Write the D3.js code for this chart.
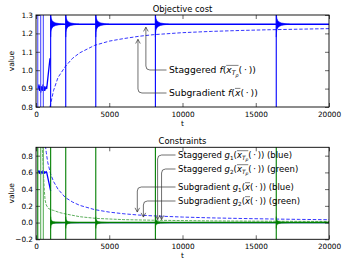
<!DOCTYPE html>
<html><head><meta charset="utf-8">
<script src="https://cdn.jsdelivr.net/npm/d3@7"></script>
<style>body{margin:0;background:#fff} svg{display:block} text{font-family:"DejaVu Sans",sans-serif;fill:#000}</style>
</head><body><svg id="c" width="350" height="264"></svg>
<script>
// ---------- data ----------
const xTicks = [0, 5000, 10000, 15000, 20000];
const fTicks = [0.8, 0.9, 1.0, 1.1, 1.2, 1.3];
const gTicks = [-0.2, 0.0, 0.2, 0.4, 0.6, 0.8];
const restartT = [120, 320, 500, 1000, 2030, 4080, 8150, 16400];
const spikeLightG = [false, true, true, false, false, false, false, false];
// decaying oscillation envelope after each restart (offset in t, half width)
const flareDt = [0, 15, 40, 100, 200, 350, 600, 900];
const flareHalfF = [0.07, 0.045, 0.032, 0.02, 0.012, 0.007, 0.003, 0.0];
const flareHalfG = [0.07, 0.045, 0.03, 0.018, 0.011, 0.006, 0.003, 0.0];
// objective: staggered (early phase) and steady level
const fStagT = [160, 200, 240, 280, 320, 360, 400, 440, 480, 520, 560, 600, 640, 690, 730, 955];
const fStagV = [0.90, 0.92, 0.89, 0.91, 0.88, 0.91, 0.90, 0.89, 0.92, 0.89, 0.91, 0.89, 0.90, 0.91, 0.90, 1.065];
const fSteady = 1.25;
// objective: subgradient
const fSubT = [955, 1200, 1500, 2000, 2500, 3000, 4000, 5000, 6000, 7000, 8000, 10000, 12000, 14000, 16000, 18000, 20000];
const fSubV = [0.80, 0.89, 0.96, 1.02, 1.065, 1.095, 1.135, 1.158, 1.172, 1.184, 1.193, 1.204, 1.211, 1.216, 1.220, 1.223, 1.226];
// constraints: staggered g1 (blue), early phase
const g1StagT = [160, 200, 240, 280, 320, 360, 400, 440, 480, 520, 560, 600, 640, 690, 730, 1000];
const g1StagV = [0.60, 0.62, 0.59, 0.61, 0.58, 0.61, 0.60, 0.59, 0.62, 0.59, 0.61, 0.59, 0.60, 0.61, 0.60, 0.38];
const gSteady = 0.0;
// constraints: subgradient g1 (blue dashed)
const g1SubT = [640, 700, 800, 1000, 1200, 1500, 2000, 2500, 3000, 4000, 5000, 6000, 7000, 8000, 10000, 12000, 14000, 16000, 18000, 20000];
const g1SubV = [0.92, 0.84, 0.72, 0.58, 0.49, 0.40, 0.30, 0.245, 0.205, 0.155, 0.125, 0.105, 0.09, 0.08, 0.066, 0.056, 0.049, 0.043, 0.038, 0.034];
// constraints: subgradient g2 (green dashed)
const g2SubT = [420, 470, 520, 570, 620, 700, 840, 1000, 1200, 1600, 2100, 3000, 4100, 6000, 8000, 12000, 16000, 20000];
const g2SubV = [0.92, 0.75, 0.55, 0.38, 0.27, 0.21, 0.17, 0.155, 0.145, 0.12, 0.10, 0.07, 0.05, 0.035, 0.028, 0.02, 0.016, 0.013];
// annotation targets (t, value) and label rows
const annTop = [
  {t: 7500, v: 1.25, ty: 70, label: "Staggered", fn: "f", stag: true},
  {t: 6960, v: 1.184, ty: 93, label: "Subgradient", fn: "f", stag: false}
];
const annBot = [
  {t: 8300, v: 0.0, ty: 155, label: "Staggered", fn: "g", idx: "1", stag: true, col: "(blue)"},
  {t: 8570, v: 0.0, ty: 169, label: "Staggered", fn: "g", idx: "2", stag: true, col: "(green)"},
  {t: 6915, v: 0.09, ty: 187, label: "Subgradient", fn: "g", idx: "1", stag: false, col: "(blue)"},
  {t: 7330, v: 0.03, ty: 201, label: "Subgradient", fn: "g", idx: "2", stag: false, col: "(green)"}
];

// ---------- drawing ----------
const svg = d3.select("#c");
const L = 36, R = 329;
const x = d3.scaleLinear().domain([0, 20000]).range([L, R]);
const yF = d3.scaleLinear().domain([0.8, 1.3]).range([107, 15]);
const yG = d3.scaleLinear().domain([-0.2, 0.9]).range([239.3, 147.3]);
const BLUE = "#0000ff", GREEN = "#007f00", LGREEN = "#5fb05f";

function panel(y, id) {
  const [y0, y1] = y.range();
  svg.append("clipPath").attr("id", id).append("rect")
    .attr("x", L).attr("y", y1).attr("width", R - L).attr("height", y0 - y1);
  return svg.append("g").attr("clip-path", `url(#${id})`);
}

function frame(y, ticks, fmt, title) {
  const [y0, y1] = y.range();
  const ax = svg.append("g");
  ax.append("g").attr("transform", `translate(0,${y0})`)
    .call(d3.axisBottom(x).tickValues(xTicks).tickSize(-4).tickPadding(5).tickFormat(d3.format("d")));
  ax.append("g").attr("transform", `translate(0,${y1})`)
    .call(d3.axisTop(x).tickValues(xTicks).tickSize(-4).tickFormat(""));
  ax.append("g").attr("transform", `translate(${L},0)`)
    .call(d3.axisLeft(y).tickValues(ticks).tickSize(-4).tickPadding(3).tickFormat(fmt));
  ax.append("g").attr("transform", `translate(${R},0)`)
    .call(d3.axisRight(y).tickValues(ticks).tickSize(-4).tickFormat(""));
  ax.selectAll(".domain").remove();
  ax.selectAll(".tick line").attr("stroke", "#000").attr("stroke-width", 0.6);
  ax.selectAll(".tick text").attr("font-size", 7.3).attr("font-family", "DejaVu Sans").attr("fill", "#000");
  ax.append("rect").attr("x", L).attr("y", y1).attr("width", R - L).attr("height", y0 - y1)
    .attr("fill", "none").attr("stroke", "#000").attr("stroke-width", 0.9);
  svg.append("text").attr("x", (L + R) / 2).attr("y", y1 - 3.5).attr("text-anchor", "middle")
    .attr("font-size", 8.4).text(title);
  svg.append("text").attr("x", (L + R) / 2).attr("y", y0 + 18.5).attr("text-anchor", "middle")
    .attr("font-size", 7.5).text("t");
  svg.append("text").attr("transform", `translate(14,${(y0 + y1) / 2}) rotate(-90)`)
    .attr("text-anchor", "middle").attr("font-size", 7.5).text("value");
}

function drawLine(g, y, ts, vs, color, w, dash) {
  const line = d3.line().x(d => x(d[0])).y(d => y(d[1]));
  g.append("path").datum(ts.map((t, i) => [t, vs[i]])).attr("d", line)
    .attr("fill", "none").attr("stroke", color).attr("stroke-width", w)
    .attr("stroke-dasharray", dash || null).attr("stroke-linejoin", "round");
}

function flares(g, y, steady, half, color, startIdx) {
  const area = d3.area().x(d => x(d[0])).y0(d => y(steady - d[1])).y1(d => y(steady + d[1]));
  restartT.forEach((t0, k) => {
    if (k < startIdx) return;
    g.append("path").datum(flareDt.map((dt, i) => [t0 + dt, half[i]])).attr("d", area)
      .attr("fill", color).attr("stroke", color).attr("stroke-width", 0.5);
  });
}

function spikes(g, y, colorFn, w) {
  const [y0, y1] = y.range();
  restartT.forEach((t, k) => {
    g.append("line").attr("x1", x(t)).attr("x2", x(t)).attr("y1", y1 - 2).attr("y2", y0 + 2)
      .attr("stroke", colorFn(k)).attr("stroke-width", w);
  });
}

// ---- top panel ----
const gT = panel(yF, "clipT");
drawLine(gT, yF, fSubT, fSubV, BLUE, 0.8, "3.5,1.8");
drawLine(gT, yF, fStagT, fStagV, BLUE, 1.3);
drawLine(gT, yF, [restartT[3], 20000], [fSteady, fSteady], BLUE, 1.5);
flares(gT, yF, fSteady, flareHalfF, BLUE, 3);
spikes(gT, yF, k => k < 3 ? "#4d4dff" : BLUE, 1.1);
frame(yF, fTicks, d3.format(".1f"), "Objective cost");

// ---- bottom panel ----
const gB = panel(yG, "clipB");
drawLine(gB, yG, g1SubT, g1SubV, BLUE, 0.8, "3.5,1.8");
drawLine(gB, yG, g1StagT, g1StagV, BLUE, 1.3);
drawLine(gB, yG, [restartT[3], 20000], [gSteady, gSteady], BLUE, 1.3);
drawLine(gB, yG, g2SubT, g2SubV, LGREEN, 1.0, "3,1.2");
drawLine(gB, yG, [restartT[3], 20000], [gSteady, gSteady], GREEN, 1.4);
flares(gB, yG, gSteady, flareHalfG, GREEN, 3);
spikes(gB, yG, k => spikeLightG[k] ? LGREEN : GREEN, 1.1);
frame(yG, gTicks, d => d3.format(".1f")(d).replace("-", "\u2212"), "Constraints");

// ---- annotations ----
function mathText(tx, ty, fs, segs) {
  const t = svg.append("text").attr("x", tx).attr("y", ty).attr("font-size", fs);
  let idx = 0, oStart = -1, oEnd = -1;
  segs.forEach(s => {
    const sp = t.append("tspan").text(s.t);
    if (s.i) sp.attr("font-style", "italic");
    if (s.fs) sp.attr("font-size", s.fs * fs);
    if (s.dy) sp.attr("dy", s.dy * fs);
    if (s.oS) oStart = idx;
    idx += s.t.length;
    if (s.oE) oEnd = idx - 1;
  });
  if (oStart >= 0) {
    const n = t.node();
    const a = n.getStartPositionOfChar(oStart).x;
    const b = n.getEndPositionOfChar(oEnd).x;
    svg.append("line").attr("x1", a).attr("x2", b).attr("y1", ty - 0.86 * fs).attr("y2", ty - 0.86 * fs)
      .attr("stroke", "#000").attr("stroke-width", 0.5);
  }
  return t;
}

function argSegs(stag) {
  if (stag) return [
    {t: "(", dy: 0}, {t: "x", i: true, oS: true}, {t: "T", i: true, fs: 0.68, dy: 0.22},
    {t: "p", i: true, fs: 0.52, dy: 0.14, oE: true}, {t: "(\u2009\u00b7\u2009))", dy: -0.36}];
  return [{t: "(", dy: 0}, {t: "x", i: true, oS: true, oE: true}, {t: "(\u2009\u00b7\u2009))"}];
}

function arrow(px, py, tipX, tipY, up) {
  const r = 4;
  const d = up
    ? `M${px},${py} H${tipX + r} Q${tipX},${py} ${tipX},${py - r} V${tipY}`
    : `M${px},${py} H${tipX + r} Q${tipX},${py} ${tipX},${py + r} V${tipY}`;
  svg.append("path").attr("d", d).attr("fill", "none").attr("stroke", "#333").attr("stroke-width", 0.7);
  const s = up ? 1 : -1;
  svg.append("path").attr("d", `M${tipX - 2.3},${tipY + s * 4.2} L${tipX},${tipY} L${tipX + 2.3},${tipY + s * 4.2}`)
    .attr("fill", "none").attr("stroke", "#333").attr("stroke-width", 0.7);
}

annTop.forEach(a => {
  const tx = 169;
  mathText(tx, a.ty + 3.3, 9.2, [{t: a.label + " "}, {t: a.fn, i: true}].concat(argSegs(a.stag)));
  arrow(tx - 2.5, a.ty, x(a.t), yF(a.v) + 3, true);
});
annBot.forEach(a => {
  const tx = 178;
  const segs = [{t: a.label + " "}, {t: a.fn, i: true}, {t: a.idx, fs: 0.66, dy: 0.22}];
  const arg = argSegs(a.stag);
  arg[0].dy = -0.22;
  mathText(tx, a.ty + 3, 8.5, segs.concat(arg).concat([{t: " " + a.col, dy: 0}]));
  arrow(tx - 2.5, a.ty, x(a.t), yG(a.v) - 3, false);
});
</script></body></html>
